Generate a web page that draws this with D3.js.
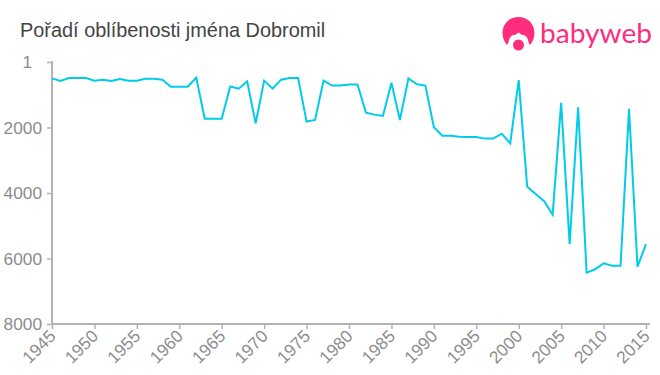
<!DOCTYPE html>
<html><head><meta charset="utf-8">
<script src="https://cdn.jsdelivr.net/npm/d3@7"></script>
<style>
html,body{margin:0;padding:0;background:#fff}
svg{display:block}
text{font-family:"Liberation Sans",Arial,sans-serif}
</style></head><body>
<svg id="c" width="660" height="375"></svg>
<script>
const title = "Pořadí oblíbenosti jména Dobromil";
const brand = "babyweb";
const yearStart = 1945;
const ranks = [500,580,490,490,490,570,540,580,519,570,570,510,510,540,754,754,754,480,1730,1730,1730,750,815,590,1870,570,815,540,490,490,1820,1770,570,720,720,690,690,1547,1608,1649,632,1770,500,683,720,1995,2250,2250,2280,2290,2290,2340,2340,2190,2485,550,3807,4030,4250,4660,1250,5560,1385,6430,6330,6150,6220,6220,1435,6250,5560];
const years = ranks.map((_, i) => yearStart + i);
const xTicks = [1945,1950,1955,1960,1965,1970,1975,1980,1985,1990,1995,2000,2005,2010,2015];
const yTicks = [1,2000,4000,6000,8000];

const svg = d3.select("#c");
const x = d3.scaleLinear().domain([1945,2015]).range([52,646]);
const y = d3.scaleLinear().domain([1,8000]).range([62,324]);
const grey = "#b3b3b3", txt = "#8c8c8c", line = "#00ccea", pink = "#ff2d7d";

svg.append("text").attr("x",20).attr("y",37).attr("font-size",19.9).attr("fill","#444").text(title);

const ax = svg.append("g").attr("transform","translate(0,324)")
  .call(d3.axisBottom(x).tickValues(xTicks).tickFormat(d3.format("d")).tickSize(5));
ax.select(".domain").remove();
ax.append("line").attr("x1",51).attr("x2",650).attr("stroke",grey).attr("stroke-width",2);
ax.selectAll(".tick line").attr("stroke",grey).attr("stroke-width",1.5);
ax.selectAll(".tick text").attr("font-size",17.3).attr("fill",txt).attr("text-anchor","end")
  .attr("x",0).attr("y",0).attr("dy","0.35em").attr("transform","translate(0,9) rotate(-45)");

const ay = svg.append("g").attr("transform","translate(52,0)")
  .call(d3.axisLeft(y).tickValues(yTicks).tickFormat(d3.format("d")).tickSize(5).tickPadding(5));
ay.select(".domain").remove();
ay.append("line").attr("y1",61).attr("y2",325).attr("stroke",grey).attr("stroke-width",2);
ay.selectAll(".tick line").attr("stroke",grey).attr("stroke-width",1.5);
ay.selectAll(".tick text").attr("font-size",17.3).attr("fill",txt)
  .attr("dx", d => d === 1 ? -10 : 0);

svg.append("path").datum(ranks)
  .attr("fill","none").attr("stroke",line).attr("stroke-width",2).attr("stroke-linejoin","miter")
  .attr("d", d3.line().x((d,i)=>x(years[i])).y(d=>y(d)));

// logo
const logo = svg.append("g").attr("fill",pink);
logo.append("path")
  .attr("d","M518.500 17C508 17 502.500 25 502.500 33C502.500 38 504.500 42 507 45C508 44 508.500 42 509 40C509.500 37 512 35 514 35C515.500 35 517 33.500 518.500 32.500C520 33.500 521.500 35 523 35C525 35 527.500 37 528 40C528.500 42 529 44 530 45C532.500 42 534.500 38 534.500 33C534.500 25 529 17 518.500 17Z");
logo.append("circle").attr("cx",518.500).attr("cy",45).attr("r",5.500);
logo.append("text").attr("x",540).attr("y",43).attr("font-size",26)
  .attr("style","font-family:Lato,'Noto Sans',sans-serif").attr("textLength",112).attr("lengthAdjust","spacingAndGlyphs")
  .attr("fill",pink).text(brand);
</script>
</body></html>
